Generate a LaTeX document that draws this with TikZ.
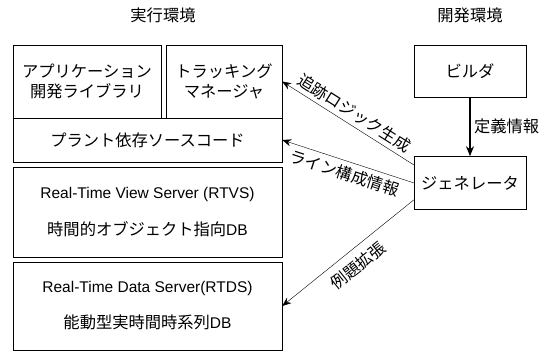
\documentclass[tikz,border=0pt]{standalone}
\usepackage{fontspec}
\setmainfont{Liberation Sans}
\newfontfamily\jp{Noto Sans CJK JP}[Scale=1.05]
\usetikzlibrary{positioning,arrows.meta}

\begin{document}
\begin{tikzpicture}[x=1pt, y=-1pt, node distance={59pt},
    font=\jp\fontsize{15.5}{20}\selectfont,
    box/.style = {draw, rectangle, align=center, inner sep=0pt},
    link/.style = {-{Stealth[length=9pt,width=7pt]}}]
    \useasboundingbox (0,0) rectangle (547,352);
    % headings
    \node (run) at (163,15) {実行環境};
    \node (dev) at (470,15) {開発環境};
    % runtime side
    \node[box, minimum width=148pt, minimum height=73pt] (lib) at (87,81.5) {アプリケーション\\開発ライブラリ};
    \node[box, minimum width=116pt, minimum height=73pt] (track) at (224,81.5) {トラッキング\\マネージャ};
    \node[box, minimum width=269pt, minimum height=44pt] (plant) at (147.5,140) {プラント依存ソースコード};
    \node[box, minimum width=269pt, minimum height=90pt] (rtvs) at (147.5,212) {{\rmfamily Real-Time View Server (RTVS)}\\[17pt]時間的オブジェクト指向{\rmfamily DB}};
    \node[box, minimum width=269pt, minimum height=88pt] (rtds) at (147.5,306) {{\rmfamily Real-Time Data Server(RTDS)}\\[16pt]能動型実時間時系列{\rmfamily DB}};
    % development side
    \node[box, minimum width=112pt, minimum height=52pt] (build) at (470,71) {ビルダ};
    \node[box, minimum width=112pt, minimum height=53pt] (gen) [below=of build] {ジェネレータ};
    \draw[line width=1.5pt, -{Stealth[length=10pt,width=8pt]}] (build) -- (gen) node[midway, right] {定義情報};
    \draw[link] ([yshift=18pt]gen.west) -- (track.east) node[midway, sloped, above=1pt] {追跡ロジック生成};
    \draw[link] (gen.west) -- (plant.east) node[midway, sloped, below=1pt] {ライン構成情報};
    \draw[link] ([yshift=-17pt]gen.west) -- (rtds.east) node[midway, sloped, below=5pt] {例題拡張};
\end{tikzpicture}
\end{document}
